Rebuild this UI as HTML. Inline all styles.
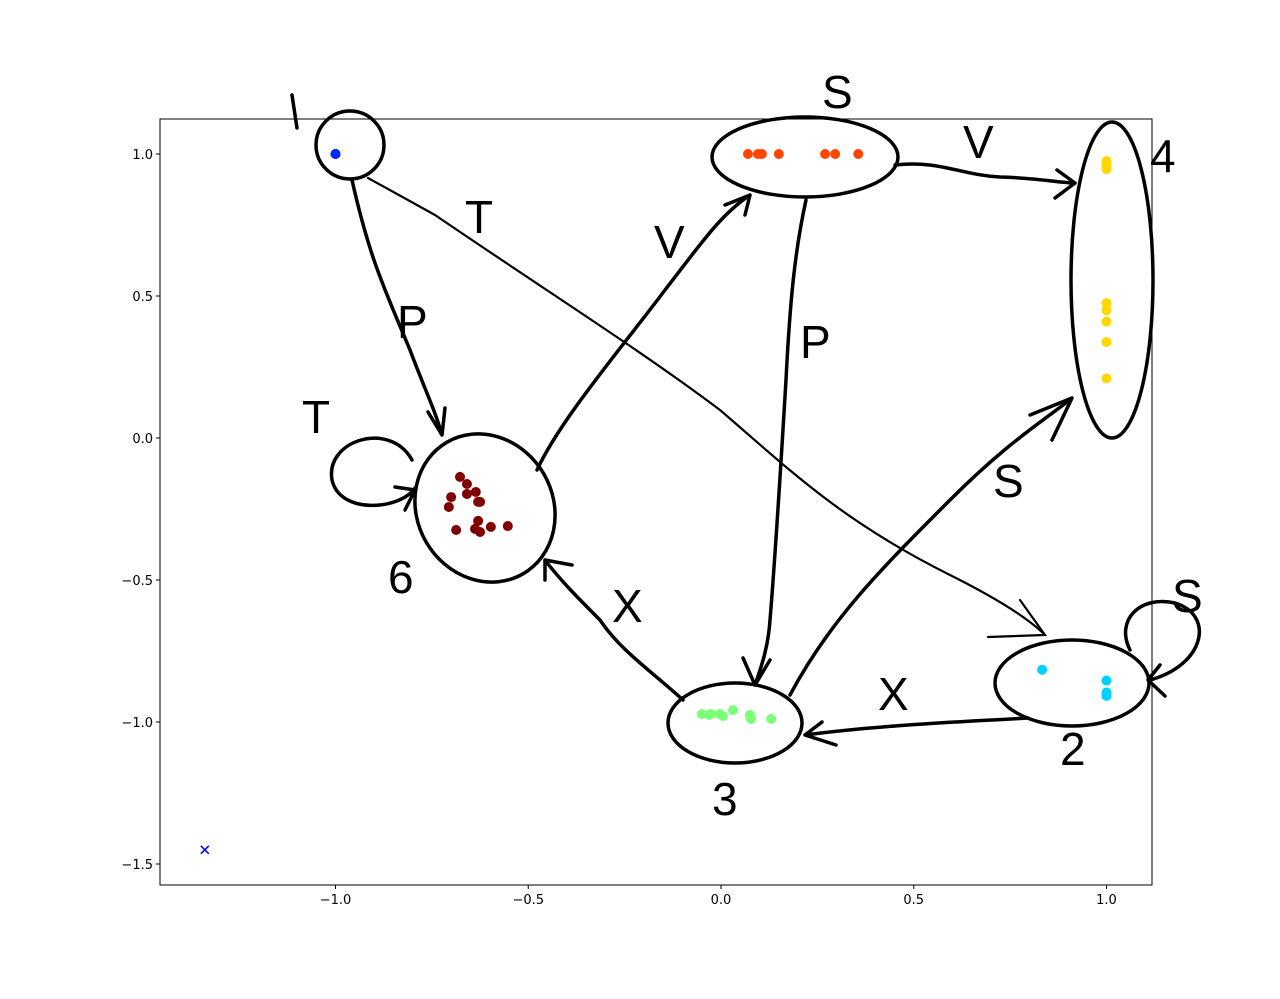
<!DOCTYPE html>
<html><head><meta charset="utf-8"><style>
body{margin:0;background:#fff}
svg text{font-family:"DejaVu Sans","Liberation Sans",sans-serif}
.hand{fill:none;stroke:#000;stroke-width:3.5;stroke-linecap:round;stroke-linejoin:round}
.thin{fill:none;stroke:#000;stroke-width:2.2;stroke-linecap:round}
.lbl{font-family:"Liberation Sans",sans-serif;font-size:46px;fill:#000;font-weight:normal}
</style></head><body>
<svg id="chart" width="1280" height="994" xmlns="http://www.w3.org/2000/svg">
<g id="marks"></g>
<g>
<circle class="hand" cx="350" cy="145" r="34"/>
<ellipse class="hand" cx="805" cy="157" rx="93" ry="40"/>
<ellipse class="hand" cx="1112" cy="280" rx="41" ry="158"/>
<ellipse class="hand" cx="485" cy="508" rx="68" ry="76" transform="rotate(-30 485 508)"/>
<ellipse class="hand" cx="735" cy="723" rx="67" ry="40"/>
<ellipse class="hand" cx="1072" cy="683" rx="77" ry="43"/>
<path class="hand" d="M415,488 C400,510 340,515 332,480 C325,440 390,420 412,460"/>
<path class="hand" d="M395,487 L415,490 L405,510"/>
<path class="hand" d="M1130,650 C1115,620 1140,595 1175,603 C1215,615 1205,665 1150,680"/>
<path class="hand" d="M1160,665 L1148,680 L1165,696"/>
<path class="hand" d="M352,180 C370,260 385,290 410,350 C425,390 435,410 442,435 M428,412 L442,435 L445,408"/>
<path class="thin" d="M368,178 L435,215 C560,300 640,350 720,410 C790,470 840,520 950,575 C1000,600 1030,620 1045,635 M1020,600 L1045,635 L988,637"/>
<path class="hand" d="M537,470 C560,420 620,350 665,290 C700,245 720,215 750,195 M725,205 L750,195 L745,215"/>
<path class="hand" d="M806,200 C795,250 790,300 786,380 C780,480 775,560 770,620 C768,650 760,670 755,685 M743,658 L755,685 L770,660"/>
<path class="hand" d="M895,165 C940,160 960,175 1000,177 C1040,178 1060,183 1075,183 M1055,198 L1075,183 L1057,170"/>
<path class="hand" d="M683,700 C650,670 620,650 600,620 C580,600 560,580 545,560 M545,580 L545,560 L572,565"/>
<path class="hand" d="M790,695 C830,620 880,570 950,500 C1010,440 1045,420 1072,398 M1030,415 L1072,398 L1052,440"/>
<path class="hand" d="M1028,718 C960,722 880,725 805,735 M822,722 L805,735 L836,745"/>
<path class="hand" d="M292,95 L297,128"/>
<text class="lbl" x="822" y="108">S</text>
<text class="lbl" x="1150" y="172">4</text>
<text class="lbl" x="465" y="233">T</text>
<text class="lbl" x="397" y="338">P</text>
<text class="lbl" x="654" y="258">V</text>
<text class="lbl" x="800" y="358">P</text>
<text class="lbl" x="963" y="158">V</text>
<text class="lbl" x="302" y="433">T</text>
<text class="lbl" x="388" y="593">6</text>
<text class="lbl" x="612" y="622">X</text>
<text class="lbl" x="993" y="497">S</text>
<text class="lbl" x="878" y="710">X</text>
<text class="lbl" x="1172" y="612">S</text>
<text class="lbl" x="1060" y="765">2</text>
<text class="lbl" x="712" y="815">3</text>
</g>
</svg>
<script>
const categories=['node1','node5','node4','node6','node3','node2'];
const colors=['#0029ff','#ff4500','#ffd700','#800000','#7dff7a','#00d0ff'];
const xs1=[-1,-1], ys1=[1,1];
const xs5=[0.07,0.096,0.106,0.15,0.27,0.296,0.356], ys5=[1,1,1,1,1,1,1];
const xs4=[1,1,1,1,1,1,1,1], ys4=[0.975,0.96,0.947,0.475,0.45,0.41,0.338,0.21];
const xs6=[-0.677,-0.659,-0.636,-0.659,-0.700,-0.625,-0.630,-0.706,-0.630,-0.553,-0.597,-0.638,-0.687,-0.625];
const ys6=[-0.137,-0.162,-0.190,-0.197,-0.208,-0.225,-0.225,-0.243,-0.292,-0.310,-0.313,-0.320,-0.324,-0.331];
const xs3=[-0.05,-0.026,-0.003,0.005,0.031,0.075,0.078,0.13,-0.031];
const ys3=[-0.972,-0.972,-0.972,-0.979,-0.958,-0.975,-0.989,-0.989,-0.975];
const xs2=[0.833,1,1,1], ys2=[-0.816,-0.854,-0.896,-0.908];
const xMarker=[-1.339], yMarker=[-1.45];
const xTicks=[-1.0,-0.5,0.0,0.5,1.0], yTicks=[1.0,0.5,0.0,-0.5,-1.0,-1.5];
const L=160,R=1152,T=119,B=885;
const sx=v=>721+v*385.5, sy=v=>438-v*284;
const NS='http://www.w3.org/2000/svg';
const g=document.getElementById('marks');
function mk(t,a){const e=document.createElementNS(NS,t);for(const k in a)e.setAttribute(k,a[k]);g.appendChild(e);return e;}
const fmt=v=>(v<0?'\u2212':'')+Math.abs(v).toFixed(1);
const frame=mk('rect',{x:L,y:T,width:R-L,height:B-T,fill:'none',stroke:'#000','stroke-width':1});


xTicks.forEach(v=>{const x=sx(v);
 const l=mk('line',{x1:x,x2:x,y1:B,y2:B+4,stroke:'#000'});
 
 
 const t=mk('text',{x:x,y:B+19,'text-anchor':'middle','font-size':13});t.textContent=fmt(v);
 
 });
yTicks.forEach(v=>{const y=sy(v);
 const l=mk('line',{x1:L-4,x2:L,y1:y,y2:y,stroke:'#000'});
 
 
 const t=mk('text',{x:L-7,y:y+5,'text-anchor':'end','font-size':13});t.textContent=fmt(v);
 
 });
const sets=[[xs1,ys1],[xs5,ys5],[xs4,ys4],[xs6,ys6],[xs3,ys3],[xs2,ys2]];
sets.forEach((s,i)=>{s[0].forEach((xv,j)=>{
 const c=mk('circle',{cx:sx(xv),cy:sy(s[1][j]),r:5,fill:colors[i]});
 
 });});
xMarker.forEach((xv,j)=>{const x=sx(xv),y=sy(yMarker[j]);
 const p=mk('path',{d:`M${x-4},${y-4}L${x+4},${y+4}M${x-4},${y+4}L${x+4},${y-4}`,stroke:'#0000ff','stroke-width':1.5});
 
 });
</script>
</body></html>
